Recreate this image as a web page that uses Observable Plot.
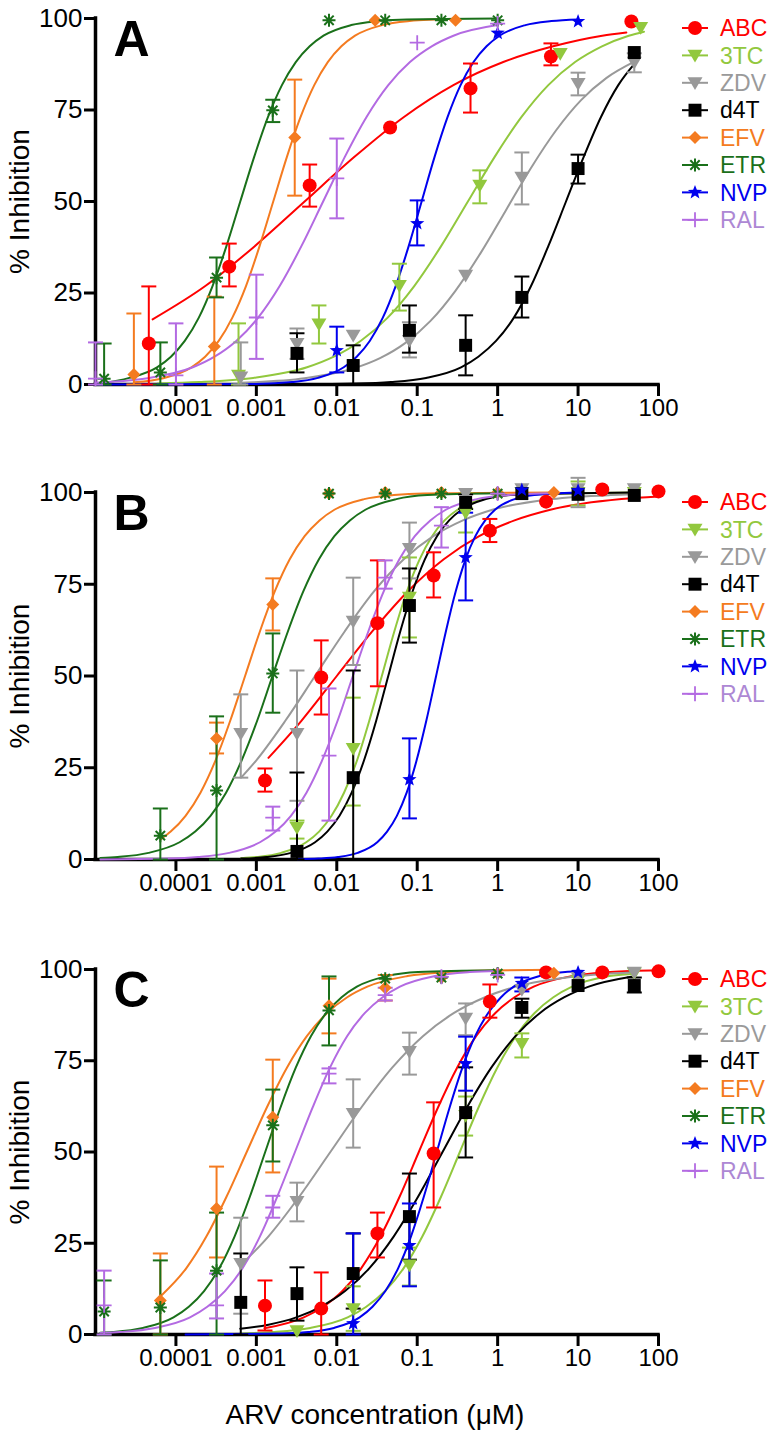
<!DOCTYPE html>
<html><head><meta charset="utf-8">
<script src="https://cdn.jsdelivr.net/npm/d3@7"></script>
<script src="https://cdn.jsdelivr.net/npm/@observablehq/plot@0.6"></script>
<style>
body{margin:0;background:#fff;}
#page{position:relative;width:767px;height:1439px;overflow:hidden;font-family:"Liberation Sans",Arial,Helvetica,sans-serif;}
#page > svg{position:absolute;left:0;}
#xlabel{position:absolute;left:0;width:750px;text-align:center;font-size:28px;line-height:28px;top:1401px;color:#000;}
</style></head><body><div id="page"><div id="xlabel">ARV concentration (μM)</div></div>
<script>
// ---------- categories, colours, ticks ----------
const drugs = ["ABC","3TC","ZDV","d4T","EFV","ETR","NVP","RAL"];
const colors = ["#ff0000","#92c83e","#999999","#000000","#f47b20","#1a701a","#0000ee","#b36ae2"];
const legendTextColors = ["#ff0000","#92c83e","#9a9a9a","#000000","#f47b20","#1a701a","#0000ee","#ad88d4"];
const panelLetters = ["A","B","C"];
const xTicks = [0.0001,0.001,0.01,0.1,1,10,100];
const xTickLabels = ["0.0001","0.001","0.01","0.1","1","10","100"];
const yTicks = [0,25,50,75,100];
const xDomain = [1e-5,100];

// ---------- observed points: [concentration µM, mean %, lower, upper] (order = drugs) ----------
const pointsA = [
 [[4.6e-5,11.2,0,26.8],[4.6e-4,32.2,26.8,38.5],[4.6e-3,54.4,48.6,60.1],[0.046,70.2,null,null],[0.46,80.9,74.3,87.7],[4.6,89.6,87.2,93.2],[46,99.2,null,null]],
 [[6e-4,2.5,0,16.7],[6e-3,16.5,11.2,21.6],[0.06,27,20.2,33],[0.6,54.4,49.5,58.5],[6,90.4,null,null],[60,97.5,null,null]],
 [[6.4e-4,2,0,11.5],[3.2e-3,11.2,7,15.3],[0.016,13.4,null,null],[0.08,12,7.4,17],[0.4,29.8,null,null],[2,56.6,49.2,63.4],[10,82.2,79,85.2],[50,88,85.3,90.5]],
 [[3.2e-3,8.5,3.3,14],[0.016,5.2,0,10.7],[0.08,14.8,8.7,21.6],[0.4,10.7,2.5,18.9],[2,23.8,18.3,29.5],[10,59,54.9,62.8],[50,90.7,null,null]],
 [[3e-5,2.7,0,19.4],[3e-4,10.4,0,24],[3e-3,67.5,51.6,83.3],[0.03,99.5,null,null],[0.3,99.5,null,null]],
 [[1.28e-5,1.6,0,11.2],[6.4e-5,3.3,0,11.5],[3.2e-4,29.2,23.8,34.7],[1.6e-3,74.9,71.7,77.8],[8e-3,99.5,null,null],[0.04,99.5,null,null],[0.2,99.5,null,null],[1,99.5,null,null]],
 [[0.01,9.3,3.3,15.8],[0.1,44,38,50.3],[1,96,null,null],[10,99.2,null,null]],
 [[1e-5,1.6,0,11.5],[1e-4,2.5,0,16.7],[1e-3,18.3,7,30],[0.01,56.3,45.4,67.2],[0.1,93.4,null,null],[1,98.6,null,null]]
];
const pointsB = [
 [[1.28e-3,21.5,18.5,24.8],[6.4e-3,49.6,39.5,59.7],[0.032,64.4,47.2,81.5],[0.16,77.4,71.4,83.7],[0.8,89.6,86.5,92.8],[4,97.5,null,null],[20,100.8,null,null],[100,100.3,null,null]],
 [[3.2e-3,8.7,5.7,10.6],[0.016,30.2,14.7,44.1],[0.08,71.4,60.5,82.3],[0.4,94.5,89.1,99.7],[2,100,null,null],[10,100,96.5,103],[50,100,null,null]],
 [[6.4e-4,34.3,22.3,45],[3.2e-3,34.3,16,51.5],[0.016,64.9,53,76.8],[0.08,84.7,76.6,91.8],[0.4,99.7,null,null],[2,101,null,null],[10,101,96,104],[50,101,null,null]],
 [[3.2e-3,2.2,0,23.7],[0.016,22.3,0,51.5],[0.08,69.2,59.1,79.3],[0.4,97.3,95.5,99.5],[2,99.7,null,null],[10,99.5,null,null],[50,99.2,null,null]],
 [[3.2e-4,33,28.9,37.3],[1.6e-3,69.5,62.4,76.6],[8e-3,99.7,null,null],[0.04,100,null,null],[0.2,100,null,null],[1,100,null,null],[5,100,null,null]],
 [[6.4e-5,6.5,0,13.9],[3.2e-4,18.8,0,39],[1.6e-3,50.7,40,61.6],[8e-3,99.7,null,null],[0.04,99.7,null,null],[0.2,99.7,null,null],[1,99.7,null,null]],
 [[0.08,21.8,11.2,33],[0.4,82.3,70.6,94.5],[2,100.7,null,null],[10,100.5,null,null]],
 [[1.6e-3,11.4,7.9,14.4],[8e-3,28.3,10.6,46.6],[0.04,76.8,73.8,81.5],[0.2,91,85,96],[1,99.7,null,null]]
];
const pointsC = [
 [[1.28e-3,7.9,1.1,14.8],[6.4e-3,7.1,0,17],[0.032,27.7,21.1,33.4],[0.16,49.6,34.8,63.6],[0.8,91.2,86.8,95.9],[4,99.2,null,null],[20,99.2,null,null],[100,99.5,null,null]],
 [[3.2e-3,1,null,null],[0.016,7,1,13.2],[0.08,19,13.4,23.8],[0.4,60,54.5,65.2],[2,79.7,75.9,82.5],[10,97,null,null],[50,99,null,null]],
 [[6.4e-4,19.4,5.7,32],[3.2e-3,36.4,31,41.6],[0.016,60.5,51.2,69.9],[0.08,77.5,71.2,82.7],[0.4,86.6,82,90.7],[2,94.5,null,null],[10,97.8,null,null],[50,99.2,null,null]],
 [[6.4e-4,8.8,0,22.2],[3.2e-3,11.2,3.8,18.4],[0.016,16.7,7.1,27.7],[0.08,32.3,20.5,44.1],[0.4,60.8,48.5,73.2],[2,89.6,86.8,92],[10,95.6,null,null],[50,95.6,93.7,97.8]],
 [[6.4e-5,9.3,0,22.2],[3.2e-4,34.5,21.1,46],[1.6e-3,59.5,44.4,75.3],[8e-3,90.1,82.5,97.5],[0.04,95,91.5,98.5],[0.2,97.8,null,null],[1,98.9,null,null],[5,99,null,null]],
 [[1.28e-5,6.3,0,14.8],[6.4e-5,7.4,0,20.3],[3.2e-4,17.5,0,33.4],[1.6e-3,57.3,47.4,67.1],[8e-3,88.8,79.2,98.1],[0.04,97.5,null,null],[0.2,97.8,null,null],[1,98.9,null,null]],
 [[0.016,3,0,27.7],[0.08,24.4,13.2,35.9],[0.4,74.2,66.8,81.6],[2,96.2,94,97.8],[10,99.2,null,null]],
 [[1.28e-5,8,0,17.5],[3.2e-4,8,4.4,16.7],[1.6e-3,34.8,32,38],[8e-3,71.5,68.8,72.9],[0.04,93,91.5,95],[0.2,98,null,null],[1,98.5,null,null]]
];

// ---------- fitted curves: [log10 concentration, %] (order = drugs) ----------
const curvesA = [
 [[-4.29,17.8],[-3.635,26.9],[-3.02,37.8],[-2.4,50],[-1.78,62.2],[-1.165,73.1],[-0.55,81.8],[0.07,88.1],[0.69,92.4],[1.3,95.3],[1.6,96.2]],
 [[-4.23,0.3],[-3.705,0.67],[-3.04,1.8],[-2.37,4.7],[-2.037,7.6],[-1.704,11.9],[-1.37,18.2],[-1.037,26.9],[-0.703,37.8],[-0.37,50],[-0.037,62.2],[0.297,73.1],[0.63,81.8],[0.963,88.1],[1.297,92.4],[1.63,95.3],[1.82,96.4]],
 [[-3.2,0.5],[-3.025,0.64],[-2.4,1.7],[-1.775,4.5],[-1.4625,7.2],[-1.15,11.3],[-0.8375,17.3],[-0.525,25.6],[-0.2125,35.9],[0.1,47.5],[0.4125,59.1],[0.725,69.4],[1.0375,77.7],[1.35,83.7],[1.7,88.2]],
 [[-2.5,0.07],[-1.76,0.25],[-1.325,0.67],[-0.89,1.8],[-0.455,4.7],[-0.24,7.6],[-0.02,11.9],[0.2,18.2],[0.415,26.9],[0.63,37.8],[0.85,50],[1.07,62.2],[1.285,73.1],[1.5,81.8],[1.7,87.6]],
 [[-4.52,0.6],[-4.146,1.8],[-3.807,4.7],[-3.637,7.6],[-3.468,11.9],[-3.3,18.2],[-3.129,26.9],[-2.96,37.8],[-2.79,50],[-2.62,62.2],[-2.45,73.1],[-2.28,81.8],[-2.112,88.1],[-1.943,92.4],[-1.773,95.3],[-1.434,98.2],[-1.095,99.3],[-0.52,99.9]],
 [[-4.94,0.25],[-4.58,1.8],[-4.235,4.7],[-4.062,7.6],[-3.89,11.9],[-3.717,18.2],[-3.545,26.9],[-3.372,37.8],[-3.2,50],[-3.027,62.2],[-2.855,73.1],[-2.682,81.8],[-2.51,88.1],[-2.337,92.4],[-2.165,95.3],[-1.82,98.2],[-1.475,99.3],[-1.13,99.75],[0,100]],
 [[-5,0],[-3,0.17],[-2.558,0.67],[-2.235,1.8],[-1.913,4.7],[-1.752,7.6],[-1.59,11.9],[-1.429,18.2],[-1.268,26.9],[-1.106,37.8],[-0.945,50],[-0.784,62.2],[-0.622,73.1],[-0.461,81.8],[-0.3,88.1],[-0.138,92.4],[0.023,95.3],[0.345,98.2],[0.668,99.3],[1,99.75]],
 [[-5,0.5],[-4.87,0.67],[-4.33,1.8],[-3.79,4.7],[-3.52,7.6],[-3.25,11.9],[-2.98,18.2],[-2.71,26.9],[-2.44,37.8],[-2.17,50],[-1.9,62.2],[-1.63,73.1],[-1.36,81.8],[-1.09,88.1],[-0.82,92.4],[-0.55,95.3],[0,98.2]]
];
const curvesB = [
 [[-2.85,27.7],[-2.44,37.8],[-2.0,50],[-1.557,62.2],[-1.115,73.1],[-0.67,81.8],[-0.23,88.1],[0.21,92.4],[0.655,95.3],[1.54,98.2],[2.0,98.9]],
 [[-3.19,0.37],[-3.0,0.67],[-2.69,1.8],[-2.38,4.7],[-2.22,7.6],[-2.065,11.9],[-1.91,18.2],[-1.75,26.9],[-1.596,37.8],[-1.44,50],[-1.284,62.2],[-1.128,73.1],[-0.97,81.8],[-0.815,88.1],[-0.66,92.4],[-0.5,95.3],[-0.19,98.2],[0.12,99.3],[1.7,100]],
 [[-3.19,22.3],[-3.005,26.9],[-2.64,37.8],[-2.27,50],[-1.9,62.2],[-1.535,73.1],[-1.167,81.8],[-0.8,88.1],[-0.432,92.4],[-0.065,95.3],[0.67,98.2],[1.405,99.3],[1.7,99.5]],
 [[-3.19,0.24],[-2.875,0.67],[-2.57,1.8],[-2.27,4.7],[-2.118,7.6],[-1.966,11.9],[-1.815,18.2],[-1.663,26.9],[-1.51,37.8],[-1.36,50],[-1.21,62.2],[-1.057,73.1],[-0.905,81.8],[-0.754,88.1],[-0.603,92.4],[-0.45,95.3],[-0.148,98.2],[0.155,99.3],[1.7,100]],
 [[-4.19,5.5],[-4.065,7.6],[-3.88,11.9],[-3.695,18.2],[-3.51,26.9],[-3.325,37.8],[-3.14,50],[-2.955,62.2],[-2.77,73.1],[-2.585,81.8],[-2.4,88.1],[-2.215,92.4],[-2.03,95.3],[-1.66,98.2],[-1.29,99.3],[-0.92,99.75],[0.7,100]],
 [[-4.94,0.38],[-4.725,0.67],[-4.34,1.8],[-3.955,4.7],[-3.76,7.6],[-3.57,11.9],[-3.377,18.2],[-3.185,26.9],[-2.99,37.8],[-2.8,50],[-2.607,62.2],[-2.415,73.1],[-2.222,81.8],[-2.03,88.1],[-1.837,92.4],[-1.645,95.3],[-1.26,98.2],[-0.875,99.3],[0,99.8]],
 [[-2.49,0.08],[-2.23,0.25],[-1.985,0.67],[-1.74,1.8],[-1.497,4.7],[-1.375,7.6],[-1.253,11.9],[-1.131,18.2],[-1.009,26.9],[-0.887,37.8],[-0.765,50],[-0.643,62.2],[-0.521,73.1],[-0.399,81.8],[-0.277,88.1],[-0.155,92.4],[-0.033,95.3],[0.211,98.2],[0.455,99.3],[1,100]],
 [[-4.94,0.03],[-4.11,0.25],[-3.725,0.67],[-3.34,1.8],[-2.955,4.7],[-2.76,7.6],[-2.57,11.9],[-2.377,18.2],[-2.185,26.9],[-1.99,37.8],[-1.8,50],[-1.607,62.2],[-1.415,73.1],[-1.222,81.8],[-1.03,88.1],[-0.837,92.4],[-0.645,95.3],[-0.26,98.2],[0.125,99.3],[0.7,99.8]]
];
const curvesC = [
 [[-2.9,1.7],[-2.41,4.7],[-2.17,7.6],[-1.93,11.9],[-1.695,18.2],[-1.456,26.9],[-1.218,37.8],[-0.98,50],[-0.742,62.2],[-0.504,73.1],[-0.266,81.8],[-0.028,88.1],[0.21,92.4],[0.448,95.3],[0.924,98.2],[1.4,99.3],[2.0,99.8]],
 [[-3.2,0.28],[-2.795,0.67],[-2.33,1.8],[-1.865,4.7],[-1.633,7.6],[-1.4,11.9],[-1.168,18.2],[-0.935,26.9],[-0.703,37.8],[-0.47,50],[-0.238,62.2],[-0.005,73.1],[0.228,81.8],[0.46,88.1],[0.693,92.4],[0.925,95.3],[1.39,98.2],[1.66,98.8]],
 [[-3.19,19.1],[-2.849,26.9],[-2.465,37.8],[-2.08,50],[-1.695,62.2],[-1.311,73.1],[-0.926,81.8],[-0.542,88.1],[-0.157,92.4],[0.227,95.3],[0.996,98.2],[1.66,99.2]],
 [[-3.2,1.6],[-2.85,2.7],[-2.503,4.7],[-2.2,7.6],[-1.897,11.9],[-1.594,18.2],[-1.291,26.9],[-0.988,37.8],[-0.685,50],[-0.382,62.2],[-0.079,73.1],[0.224,81.8],[0.527,88.1],[0.83,92.4],[1.133,95.3],[1.66,98.0]],
 [[-4.19,10.5],[-3.87,18.2],[-3.62,26.9],[-3.37,37.8],[-3.12,50],[-2.87,62.2],[-2.62,73.1],[-2.37,81.8],[-2.12,88.1],[-1.87,92.4],[-1.62,95.3],[-1.12,98.2],[-0.62,99.3],[-0.12,99.75],[0.7,99.9]],
 [[-4.94,0.45],[-4.79,0.67],[-4.41,1.8],[-4.03,4.7],[-3.84,7.6],[-3.65,11.9],[-3.46,18.2],[-3.27,26.9],[-3.08,37.8],[-2.89,50],[-2.7,62.2],[-2.51,73.1],[-2.32,81.8],[-2.13,88.1],[-1.94,92.4],[-1.75,95.3],[-1.37,98.2],[-0.99,99.3],[0,99.8]],
 [[-3.88,0],[-2.674,0.25],[-2.355,0.67],[-2.035,1.8],[-1.716,4.7],[-1.556,7.6],[-1.396,11.9],[-1.236,18.2],[-1.077,26.9],[-0.917,37.8],[-0.757,50],[-0.597,62.2],[-0.438,73.1],[-0.278,81.8],[-0.118,88.1],[0.042,92.4],[0.2,95.3],[0.52,98.2],[0.84,99.3],[1.0,99.5]],
 [[-4.94,0.38],[-4.695,0.67],[-4.26,1.8],[-3.825,4.7],[-3.61,7.6],[-3.39,11.9],[-3.17,18.2],[-2.955,26.9],[-2.74,37.8],[-2.52,50],[-2.3,62.2],[-2.085,73.1],[-1.87,81.8],[-1.65,88.1],[-1.43,92.4],[-1.215,95.3],[-0.78,98.2],[-0.345,99.3],[0,99.6]]
];

// ---------- marker shapes ----------
const TAU = 2 * Math.PI;
const rad = s => Math.sqrt(s / Math.PI);
const symCircle = {draw(c, s) { const r = rad(s); c.moveTo(r, 0); c.arc(0, 0, r, 0, TAU); }};
const symSquare = {draw(c, s) { const r = rad(s) * 0.9; c.rect(-r, -r, 2 * r, 2 * r); }};
const symDown = {draw(c, s) { const r = rad(s); c.moveTo(-r, -0.75 * r); c.lineTo(r, -0.75 * r); c.lineTo(0, 0.95 * r); c.closePath(); }};
const symDiamond = {draw(c, s) { const r = rad(s); c.moveTo(0, -r); c.lineTo(r, 0); c.lineTo(0, r); c.lineTo(-r, 0); c.closePath(); }};
const symAsterisk = {draw(c, s) { const r = rad(s), d = r * 0.72; c.moveTo(-r, 0); c.lineTo(r, 0); c.moveTo(0, -r); c.lineTo(0, r); c.moveTo(-d, -d); c.lineTo(d, d); c.moveTo(-d, d); c.lineTo(d, -d); }};
const symStar = {draw(c, s) { const r = rad(s), ri = r * 0.42; for (let i = 0; i < 10; i++) { const a = -Math.PI / 2 + i * Math.PI / 5, rr = i % 2 ? ri : r; const x = rr * Math.cos(a), y = rr * Math.sin(a); if (i) c.lineTo(x, y); else c.moveTo(x, y); } c.closePath(); }};
const symPlus = {draw(c, s) { const r = rad(s); c.moveTo(-r, 0); c.lineTo(r, 0); c.moveTo(0, -r); c.lineTo(0, r); }};
const symCap = {draw(c, s) { const r = rad(s); c.moveTo(-r, 0); c.lineTo(r, 0); }};
const markers = [
  {sym: symCircle, r: 7, filled: true},
  {sym: symDown, r: 7.5, filled: true},
  {sym: symDown, r: 7.5, filled: true},
  {sym: symSquare, r: 7.2, filled: true},
  {sym: symDiamond, r: 6.5, filled: true},
  {sym: symAsterisk, r: 6.5, filled: false, sw: 2},
  {sym: symStar, r: 7.5, filled: true},
  {sym: symPlus, r: 7.5, filled: false, sw: 1.8}
];

const FONT = '"Liberation Sans", Arial, Helvetica, sans-serif';
const page = document.getElementById("page");

function panel(letter, curves, points, top, plotH) {
  const marks = [
    Plot.axisX({ticks: xTicks, tickFormat: d => xTickLabels[xTicks.indexOf(d)], tickSize: 12, tickPadding: 2, strokeWidth: 3, label: null, fontSize: 24}),
    Plot.axisY({ticks: yTicks, tickSize: 11, tickPadding: 2, strokeWidth: 3, label: null, fontSize: 26}),
    Plot.ruleX([xDomain[0]], {strokeWidth: 3.5, strokeLinecap: "square"}),
    Plot.ruleY([0], {strokeWidth: 3.5, strokeLinecap: "square"}),
    Plot.text(["% Inhibition"], {frameAnchor: "left", dx: -75, rotate: -90, textAnchor: "middle", fontSize: 28}),
    Plot.text([letter], {frameAnchor: "top-left", dx: 18, dy: 2, fontSize: 50, fontWeight: "bold"})
  ];
  drugs.forEach((d, i) => {
    const line = curves[i].map(([lx, y]) => ({x: 10 ** lx, y}));
    marks.push(Plot.line(line, {x: "x", y: "y", stroke: colors[i], strokeWidth: 2, curve: "monotone-x"}));
  });
  drugs.forEach((d, i) => {
    const rows = points[i].filter(p => p[2] != null).map(([x, y, lo, hi]) => ({x, lo, hi}));
    marks.push(Plot.ruleX(rows, {x: "x", y1: "lo", y2: "hi", stroke: colors[i], strokeWidth: 2}));
    const caps = rows.flatMap(r => [{x: r.x, y: r.lo}, {x: r.x, y: r.hi}]);
    marks.push(Plot.dot(caps, {x: "x", y: "y", symbol: symCap, r: 7.5, stroke: colors[i], strokeWidth: 2, fill: "none"}));
  });
  drugs.forEach((d, i) => {
    const rows = points[i].map(([x, y]) => ({x, y}));
    const m = markers[i];
    const paint = m.filled ? {fill: colors[i], stroke: "none"} : {fill: "none", stroke: colors[i], strokeWidth: m.sw};
    marks.push(Plot.dot(rows, {x: "x", y: "y", symbol: m.sym, r: m.r, ...paint}));
  });
  const svg = Plot.plot({
    width: 767, height: 18 + plotH + 46,
    marginLeft: 95, marginRight: 109, marginTop: 18, marginBottom: 46,
    x: {type: "log", domain: xDomain},
    y: {domain: [0, 100]},
    style: {fontFamily: FONT, fontSize: "24px", color: "#000", background: "transparent", overflow: "visible"},
    marks
  });
  svg.style.top = top + "px";
  page.appendChild(svg);

  // legend
  const ly = top + 18 + 9.5;
  const lg = d3.select(page).append("svg")
    .style("position", "absolute").style("left", "670px").style("top", (ly - 14) + "px")
    .attr("width", 97).attr("height", 230);
  drugs.forEach((d, i) => {
    const g = lg.append("g").attr("transform", `translate(0,${14 + i * 27.4})`);
    g.append("line").attr("x1", 12).attr("x2", 38).attr("stroke", colors[i]).attr("stroke-width", 2);
    const m = markers[i];
    const p = g.append("path").attr("transform", "translate(25,0)")
      .attr("d", d3.symbol(m.sym, Math.PI * m.r * m.r)());
    if (m.filled) p.attr("fill", colors[i]); else p.attr("fill", "none").attr("stroke", colors[i]).attr("stroke-width", m.sw);
    g.append("text").attr("x", 50).attr("dy", "0.36em").attr("fill", legendTextColors[i])
      .style("font-family", FONT).style("font-size", "23px").text(d);
  });
}

panel(panelLetters[0], curvesA, pointsA, 0, 366);
panel(panelLetters[1], curvesB, pointsB, 474, 367);
panel(panelLetters[2], curvesC, pointsC, 951, 365);
</script></body></html>
